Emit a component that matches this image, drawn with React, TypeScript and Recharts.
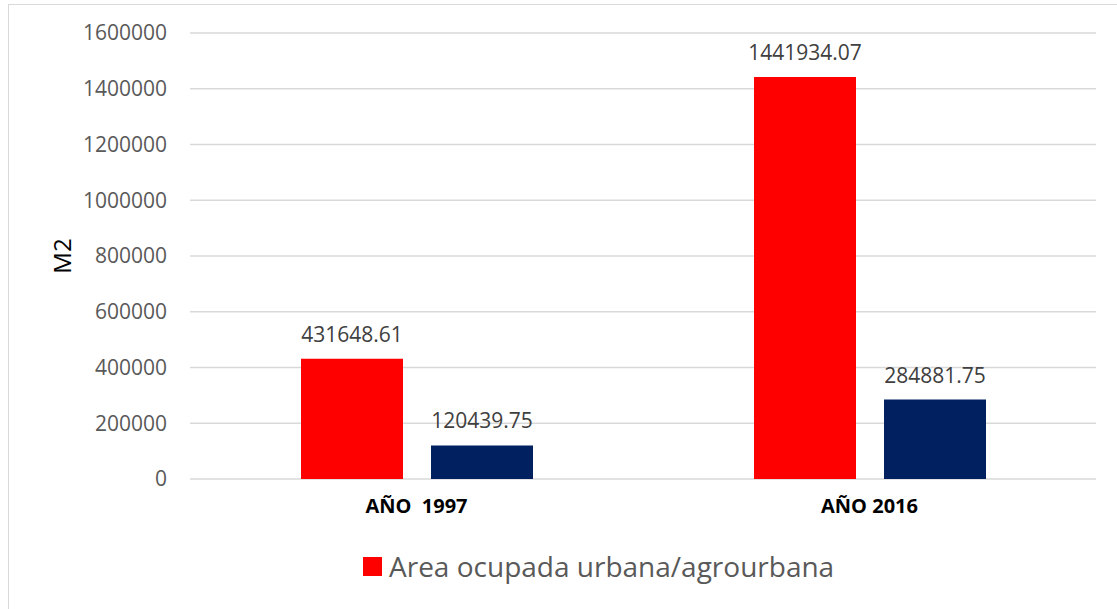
import React from 'react';
import { BarChart, Bar, XAxis, YAxis, CartesianGrid, LabelList, Label } from 'recharts';

const categories = ['AÑO  1997', 'AÑO 2016'];
const urbana = [431648.61, 1441934.07];
const otra = [120439.75, 284881.75];
const yTicks = [0, 200000, 400000, 600000, 800000, 1000000, 1200000, 1400000, 1600000];

const data = categories.map((name, i) => ({ name, urbana: urbana[i], otra: otra[i] }));

const FONT = '"Open Sans", sans-serif';

const XTick = (props: any) => {
  const { x, y, payload } = props;
  return (
    <text x={x} y={y} dy={26} textAnchor="middle" fill="#000" fontFamily={FONT}
      fontSize={20} fontWeight="bold" style={{ whiteSpace: 'pre' }}>
      {payload.value}
    </text>
  );
};

export default function App() {
  return (
    <div style={{ position: 'fixed', left: 0, top: 0, width: 1117, height: 609, overflow: 'hidden', background: '#fff' }}>
      <div style={{ position: 'absolute', left: 8, top: 4, width: 1140, height: 640, border: '1.5px solid #d9d9d9' }} />
      <div style={{ position: 'absolute', left: 0, top: 0 }}>
        <BarChart width={1117} height={609} data={data}
          margin={{ top: 33, right: 21, bottom: 100, left: 0 }}
          barCategoryGap={111} barGap={28}>
          <CartesianGrid vertical={false} stroke="#d9d9d9" strokeWidth={1.5} />
          <XAxis dataKey="name" axisLine={false} tickLine={false} tick={<XTick />} interval={0} height={30} />
          <YAxis width={190} domain={[0, 1600000]} ticks={yTicks} axisLine={false} tickLine={false}
            tickSize={8} tickMargin={15}
            tick={{ fill: '#595959', fontSize: 21, fontFamily: FONT }}>
            <Label value="M2" angle={-90} position="insideLeft" offset={62}
              style={{ fill: '#000', fontSize: 24, fontFamily: FONT, textAnchor: 'middle' }} />
          </YAxis>
          <Bar dataKey="urbana" name="Area ocupada urbana/agrourbana" fill="#ff0000" isAnimationActive={false}>
            <LabelList dataKey="urbana" position="top" offset={17}
              style={{ fill: '#404040', fontSize: 21, fontFamily: FONT }} />
          </Bar>
          <Bar dataKey="otra" fill="#002060" legendType="none" isAnimationActive={false}>
            <LabelList dataKey="otra" position="top" offset={17}
              style={{ fill: '#404040', fontSize: 21, fontFamily: FONT }} />
          </Bar>
        </BarChart>
      </div>
      <div style={{ position: 'absolute', left: 363, top: 547, display: 'flex', alignItems: 'center', fontFamily: FONT }}>
        <span style={{ width: 19, height: 19, background: '#ff0000', display: 'inline-block', marginRight: 7 }} />
        <span style={{ fontSize: 28, color: '#595959', lineHeight: '38px' }}>Area ocupada urbana/agrourbana</span>
      </div>
    </div>
  );
}
